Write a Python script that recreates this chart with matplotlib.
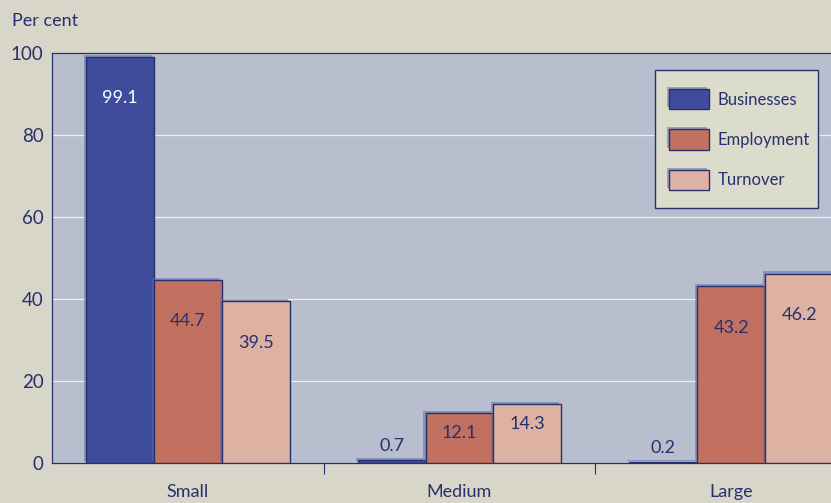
import matplotlib.pyplot as plt
import matplotlib.patheffects as pe
from matplotlib.patches import Rectangle
import numpy as np

categories = ['Small', 'Medium', 'Large']
series = ['Businesses', 'Employment', 'Turnover']
businesses = [99.1, 0.7, 0.2]
employment = [44.7, 12.1, 43.2]
turnover = [39.5, 14.3, 46.2]
yticks = [0, 20, 40, 60, 80, 100]

colors = ['#3f4b9b', '#c2705f', '#ddb2a2']
navy = '#27306e'
page = '#d8d6c8'
panel = '#b8bece'

plt.rcParams['font.family'] = ['Lato', 'DejaVu Sans']

W, H = 831, 503
fig = plt.figure(figsize=(W / 100, H / 100), dpi=100, facecolor=page)
ax = fig.add_axes([52 / W, 40 / H, 815 / W, 410 / H], facecolor=panel)

x = np.arange(len(categories))
w = 0.25
shadow = [pe.SimplePatchShadow(offset=(-1.5, 1.5), shadow_rgbFace='#5a6aa8', alpha=0.5), pe.Normal()]

all_bars = []
for i, (name, vals) in enumerate(zip(series, [businesses, employment, turnover])):
    bars = ax.bar(x + (i - 1) * w, vals, w, color=colors[i], edgecolor=navy,
                  linewidth=1.0, label=name, zorder=3, path_effects=shadow)
    all_bars.append(bars)

# value labels: tall bars get the label inside near the top, tiny ones above
for bars in all_bars:
    for b in bars:
        v = b.get_height()
        if v > 30:
            off = -30
        elif v > 5:
            off = -14
        else:
            off = 10
        col = 'white' if v > 90 else navy
        ax.annotate(f'{v:.1f}', (b.get_x() + b.get_width() / 2, v),
                    xytext=(0, off), textcoords='offset points',
                    ha='center', va='center', fontsize=13, color=col, zorder=5)

ax.set_xlim(-0.5, 2.5)
ax.set_ylim(0, 100)
ax.set_yticks(yticks)
ax.yaxis.grid(True, color='#eef0f4', linewidth=0.9, zorder=1)
ax.set_axisbelow(True)
ax.tick_params(axis='y', length=0, pad=6, labelsize=13.5, labelcolor=navy)

ax.set_xticks(x)
ax.set_xticklabels(categories)
ax.tick_params(axis='x', length=0, pad=15, labelsize=13, labelcolor=navy)
ax.set_xticks([0.5, 1.5], minor=True)
ax.tick_params(axis='x', which='minor', length=8, color=navy, width=0.8)

for s in ax.spines.values():
    s.set_color(navy)
    s.set_linewidth(0.9)

fig.text(12 / W, 1 - 21 / H, 'Per cent', fontsize=13, color=navy, va='center')

# legend box drawn by hand, entries placed inside without their own frame
box = Rectangle((655 / W, 1 - 208 / H), 163 / W, 138 / H, transform=fig.transFigure,
                facecolor='#dcdccc', edgecolor=navy, linewidth=1.0, zorder=6)
fig.patches.append(box)
leg = fig.legend(handles=[b[0] for b in all_bars], labels=series,
                 loc='upper left', bbox_to_anchor=(669 / W, 1 - 89 / H),
                 frameon=False, borderaxespad=0, borderpad=0, fontsize=12,
                 labelcolor=navy, handlelength=2.4, handleheight=1.5,
                 labelspacing=1.2, handletextpad=0.5)
leg.set_zorder(7)

fig.savefig('out.png', dpi=100, facecolor=page)
